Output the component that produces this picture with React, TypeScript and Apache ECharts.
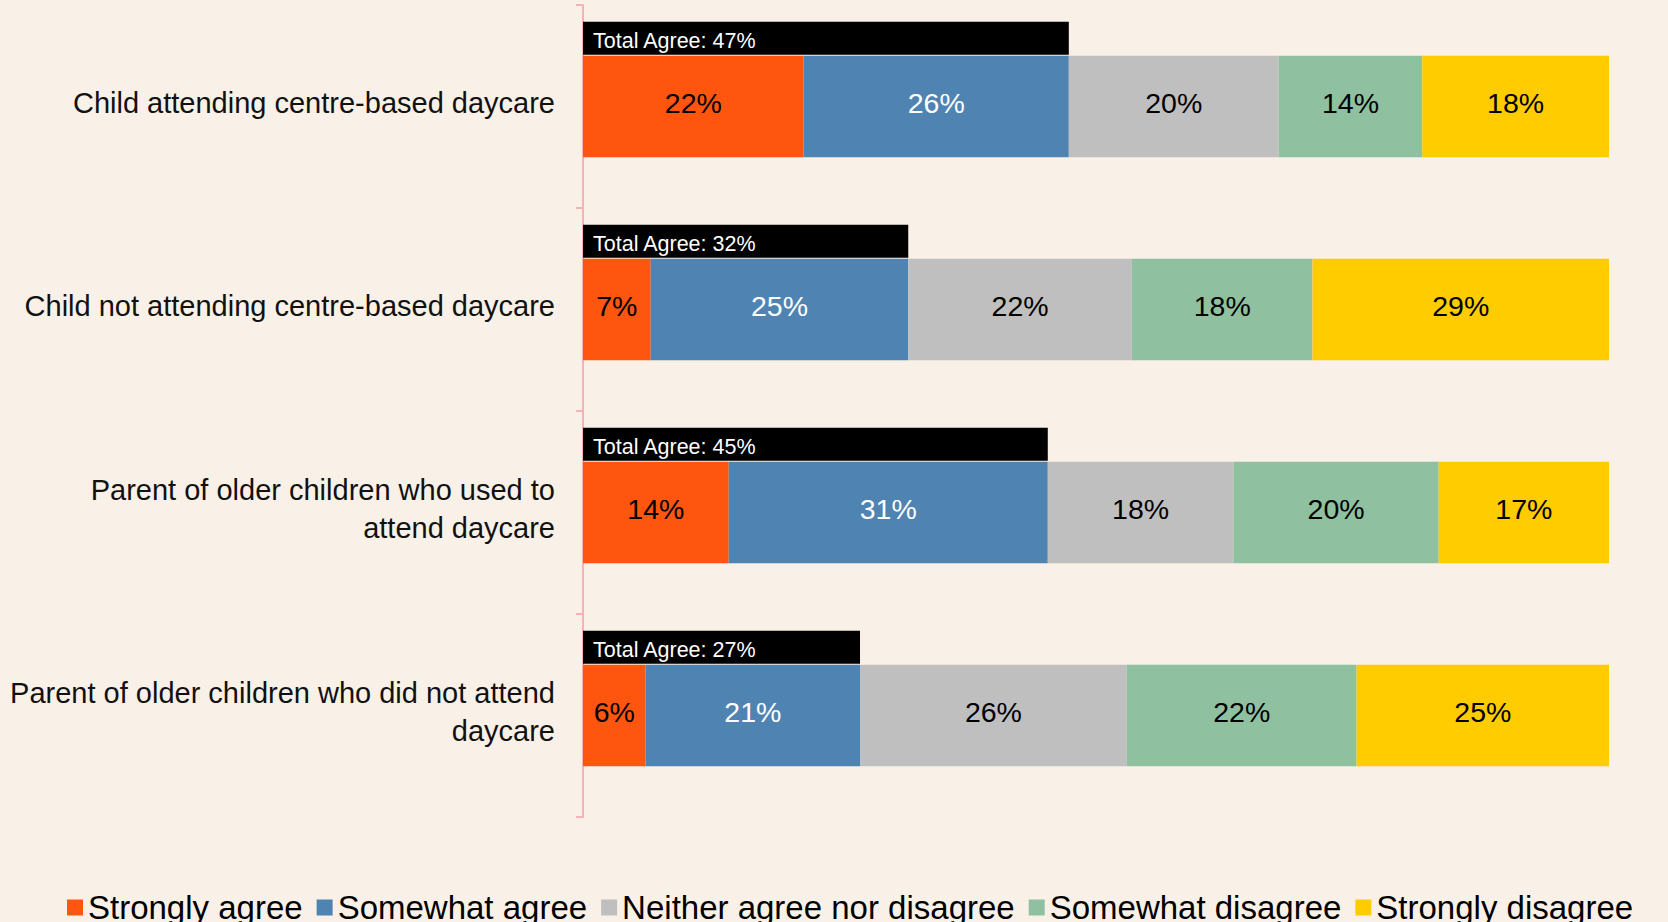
import React, { useEffect, useRef } from "react";
import * as echarts from "echarts";

const categories = [
  "Child attending centre-based daycare",
  "Child not attending centre-based daycare",
  "Parent of older children who used to\nattend daycare",
  "Parent of older children who did not attend\ndaycare",
];

const seriesNames = [
  "Strongly agree",
  "Somewhat agree",
  "Neither agree nor disagree",
  "Somewhat disagree",
  "Strongly disagree",
];

const stronglyAgree = [21.5, 6.6, 14.2, 6.1];
const somewhatAgree = [25.85, 25.1, 31.1, 20.9];
const neitherAgree = [20.45, 21.8, 18.1, 26.0];
const somewhatDisagree = [14.0, 17.6, 20.0, 22.4];
const stronglyDisagree = [18.2, 28.9, 16.6, 24.6];
const totalAgree = [47.35, 31.7, 45.3, 27.0];

const seriesValues = [stronglyAgree, somewhatAgree, neitherAgree, somewhatDisagree, stronglyDisagree];
const colors = ["#FF560F", "#4F83B1", "#BFBFBF", "#8FC09F", "#FFCC00"];
const labelColors = ["#000000", "#FFFFFF", "#000000", "#000000", "#000000"];

const FONT = "'Liberation Sans', Arial, sans-serif";

export default function App() {
  const ref = useRef<HTMLDivElement>(null);

  useEffect(() => {
    if (!ref.current) return;
    const chart = echarts.init(ref.current, null, { renderer: "svg" });

    const barSeries = seriesNames.map((name, k) => ({
      name,
      type: "bar",
      stack: "total",
      barWidth: "50%",
      data: seriesValues[k],
      itemStyle: { color: colors[k] },
      label: {
        show: true,
        position: "inside",
        color: labelColors[k],
        fontSize: 28.5,
        fontFamily: FONT,
        offset: [0, -4],
        formatter: (p: any) => Math.round(p.value) + "%",
      },
      emphasis: { disabled: true },
    }));

    const option = {
      animation: false,
      backgroundColor: "#F9F1E7",
      textStyle: { fontFamily: FONT },
      grid: { left: 583, right: 59, top: 5, bottom: 105, containLabel: false },
      xAxis: {
        type: "value",
        min: 0,
        max: 100,
        show: false,
      },
      yAxis: {
        type: "category",
        inverse: true,
        data: categories,
        axisLine: { show: true, lineStyle: { color: "#F7B3B3", width: 2 } },
        axisTick: { show: true, length: 7, lineStyle: { color: "#F7B3B3", width: 2 } },
        axisLabel: {
          fontSize: 29,
          fontFamily: FONT,
          color: "#111111",
          margin: 28,
          align: "right",
          formatter: (v: string) =>
            v.split("\n").map((l) => "{a|" + l + "}").join("\n") + "\n{b| }",
          rich: {
            a: { fontSize: 29, fontFamily: FONT, color: "#111111", lineHeight: 38 },
            b: { fontSize: 2, lineHeight: 8 },
          },
        },
      },
      legend: {
        data: seriesNames,
        left: 62,
        top: 886,
        icon: "rect",
        itemWidth: 16,
        itemHeight: 16,
        itemGap: 14,
        textStyle: { fontSize: 33, fontFamily: FONT, color: "#000000" },
      },
      series: [
        ...barSeries,
        {
          name: "Total Agree",
          type: "custom",
          encode: { x: 0, y: 1 },
          data: totalAgree.map((v, i) => [v, i]),
          z: 5,
          renderItem: (params: any, api: any) => {
            const v = api.value(0);
            const i = api.value(1);
            const start = api.coord([0, i]);
            const end = api.coord([v, i]);
            const band = api.size([0, 1])[1];
            const barTop = start[1] - band * 0.25;
            const h = band * 0.163;
            const y0 = barTop - 1 - h;
            return {
              type: "group",
              children: [
                {
                  type: "rect",
                  shape: { x: start[0], y: y0, width: end[0] - start[0], height: h },
                  style: { fill: "#000000" },
                },
                {
                  type: "text",
                  x: start[0] + 10,
                  y: barTop - 15,
                  style: {
                    text: "Total Agree: " + Math.round(v) + "%",
                    fill: "#FFFFFF",
                    fontSize: 21.5,
                    fontFamily: FONT,
                    verticalAlign: "middle",
                    align: "left",
                  },
                },
              ],
            };
          },
        },
      ],
    };

    chart.setOption(option as any);
    return () => chart.dispose();
  }, []);

  return (
    <div
      ref={ref}
      style={{ position: "absolute", left: 0, top: 0, width: 1668, height: 922 }}
    />
  );
}
